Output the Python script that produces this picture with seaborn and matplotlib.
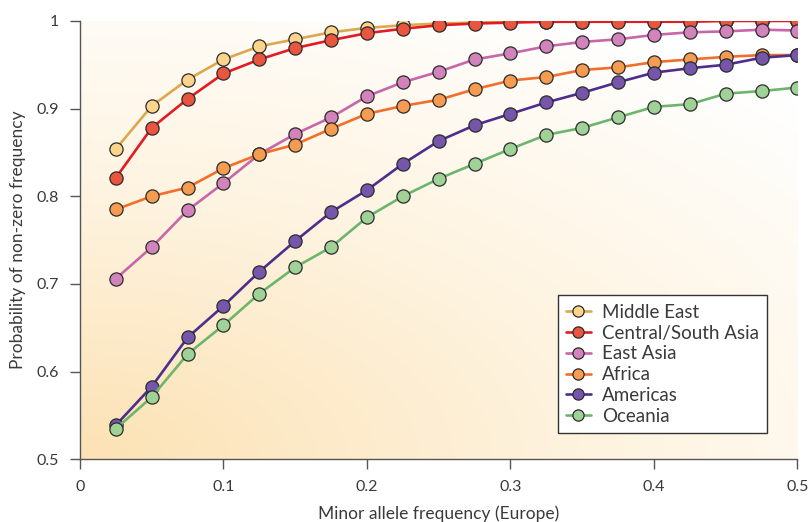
import numpy as np
import pandas as pd
import matplotlib
matplotlib.use("Agg")
import matplotlib.pyplot as plt
import seaborn as sns
from matplotlib.colors import LinearSegmentedColormap
from matplotlib.ticker import FuncFormatter

# data
maf = [0.025, 0.05, 0.075, 0.1, 0.125, 0.15, 0.175, 0.2, 0.225, 0.25,
       0.275, 0.3, 0.325, 0.35, 0.375, 0.4, 0.425, 0.45, 0.475, 0.5]

middle_east = [0.854, 0.903, 0.933, 0.956, 0.971, 0.979, 0.987, 0.992, 0.995, 0.997,
               0.998, 0.999, 0.999, 0.999, 1.0, 1.0, 1.0, 1.0, 1.0, 1.0]
central_south_asia = [0.821, 0.878, 0.911, 0.940, 0.956, 0.969, 0.978, 0.986, 0.991, 0.995,
                      0.997, 0.998, 0.999, 0.999, 0.999, 0.999, 0.999, 1.0, 1.0, 1.0]
east_asia = [0.706, 0.742, 0.784, 0.815, 0.848, 0.871, 0.890, 0.914, 0.930, 0.942,
             0.956, 0.963, 0.971, 0.976, 0.979, 0.984, 0.987, 0.988, 0.990, 0.989]
africa = [0.785, 0.800, 0.810, 0.832, 0.848, 0.859, 0.877, 0.894, 0.903, 0.910,
          0.922, 0.932, 0.936, 0.944, 0.947, 0.953, 0.956, 0.959, 0.961, 0.961]
americas = [0.539, 0.583, 0.639, 0.675, 0.714, 0.749, 0.782, 0.807, 0.837, 0.863,
            0.881, 0.894, 0.907, 0.918, 0.930, 0.941, 0.946, 0.950, 0.958, 0.961]
oceania = [0.535, 0.571, 0.620, 0.653, 0.689, 0.719, 0.742, 0.776, 0.800, 0.820,
           0.837, 0.854, 0.870, 0.878, 0.890, 0.902, 0.905, 0.917, 0.920, 0.924]

regions = ["Middle East", "Central/South Asia", "East Asia", "Africa", "Americas", "Oceania"]
values = [middle_east, central_south_asia, east_asia, africa, americas, oceania]
line_colors = ["#DBA84E", "#E31B23", "#C766A8", "#F36E2B", "#4F2D8F", "#6DB56D"]
fill_colors = ["#FDD48C", "#E9553E", "#D383BC", "#F69C50", "#7656AA", "#A0D196"]

df = pd.concat([pd.DataFrame({"maf": maf, "prob": v, "region": r})
                for r, v in zip(regions, values)], ignore_index=True)

sns.set_theme(style="ticks")
plt.rcParams["font.family"] = ["Lato", "DejaVu Sans"]
text_col = "#3a3a3a"

fig = plt.figure(figsize=(8.08, 5.22), dpi=100)
ax = fig.add_axes([0.099, 0.120, 0.888, 0.840])

# warm gradient background, strongest at lower left
n = 300
gx, gy = np.meshgrid(np.linspace(0, 1, n), np.linspace(0, 1, n))
grad = np.clip(1 - np.sqrt((gx * 0.75) ** 2 + (gy * 0.9) ** 2) / 1.05, 0, 1)
cmap = LinearSegmentedColormap.from_list("warm", ["#FFFFFF", "#FEF3DF", "#FCE2B4"])
ax.imshow(grad, extent=[0, 1, 0, 1], transform=ax.transAxes, origin="lower",
          cmap=cmap, aspect="auto", zorder=0, interpolation="bilinear")

for r, lc, fc in zip(regions, line_colors, fill_colors):
    sub = df[df["region"] == r]
    sns.lineplot(data=sub, x="maf", y="prob", ax=ax, color=lc, linewidth=1.9,
                 marker="o", markersize=9.5, markerfacecolor=fc,
                 markeredgecolor="#2b2b2b", markeredgewidth=0.9, label=r, zorder=3)

ax.set_xlim(0, 0.5)
ax.set_ylim(0.5, 1.0)
ax.set_xticks([0, 0.1, 0.2, 0.3, 0.4, 0.5])
ax.set_yticks([0.5, 0.6, 0.7, 0.8, 0.9, 1.0])
fmt = FuncFormatter(lambda v, p: f"{v:g}")
ax.xaxis.set_major_formatter(fmt)
ax.yaxis.set_major_formatter(fmt)

sns.despine(ax=ax)
for s in ["left", "bottom"]:
    ax.spines[s].set_color("#555555")
    ax.spines[s].set_linewidth(1.0)
ax.tick_params(axis="both", direction="out", length=7, width=1.0, color="#555555",
               labelsize=11.5, labelcolor=text_col, pad=8)

ax.set_xlabel("Minor allele frequency (Europe)", fontsize=12.5, color=text_col, labelpad=8)
ax.set_ylabel("Probability of non-zero frequency", fontsize=12.5, color=text_col, labelpad=8)

leg = ax.legend(loc="lower right", bbox_to_anchor=(0.958, 0.060), fontsize=13.5,
                frameon=True, fancybox=False, framealpha=1, edgecolor="#333333",
                handlelength=1.3, handletextpad=0.6, labelspacing=0.2,
                borderpad=0.45, borderaxespad=0, markerscale=0.85)
leg.get_frame().set_linewidth(1.0)
for t in leg.get_texts():
    t.set_color(text_col)

fig.savefig("out.png", dpi=100)
